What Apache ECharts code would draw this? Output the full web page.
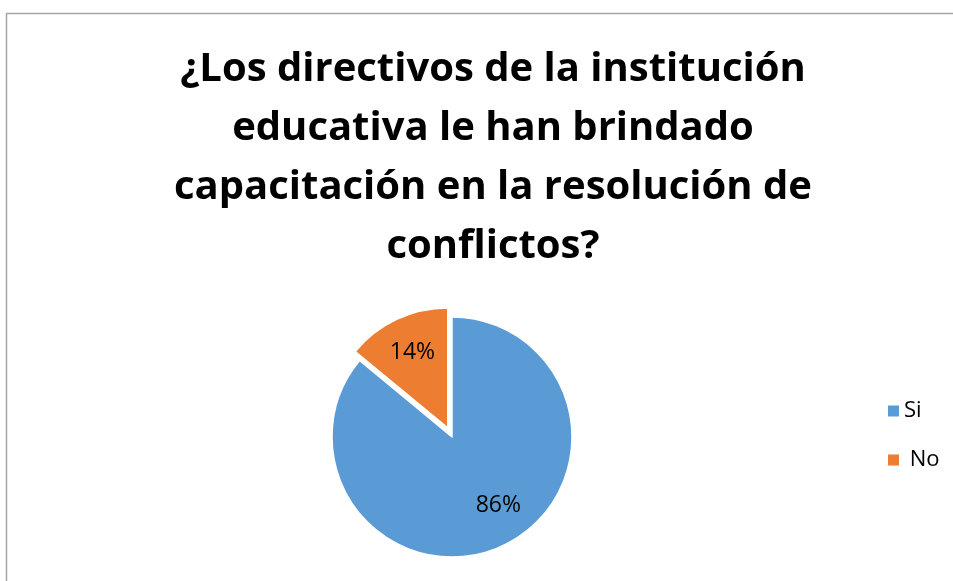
<!DOCTYPE html>
<html>
<head>
<meta charset="utf-8">
<script src="https://cdn.jsdelivr.net/npm/echarts@6/dist/echarts.min.js"></script>
<style>
html,body{margin:0;padding:0;background:#fff;}
#c{width:953px;height:581px;}
</style>
</head>
<body>
<div id="c"></div>
<script>
const titleText = "¿Los directivos de la institución\neducativa le han brindado\ncapacitación en la resolución de\nconflictos?";
const categories = ["Si", "No"];
const values = [86, 14];
const colors = ["#5B9BD5", "#ED7D31"];
const explodedCategory = "No";

const chart = echarts.init(document.getElementById('c'), null, {renderer: 'canvas'});
const FONT = '"Open Sans", Lato, sans-serif';

function makeData(transparent) {
  return categories.map((name, i) => ({
    name: name,
    value: values[i],
    selected: name === explodedCategory,
    itemStyle: {
      color: transparent ? 'rgba(0,0,0,0)' : colors[i],
      borderColor: transparent ? 'rgba(0,0,0,0)' : '#ffffff',
      borderWidth: transparent ? 0 : 1.5
    }
  }));
}

chart.setOption({
  animation: false,
  backgroundColor: '#ffffff',
  graphic: [{
    type: 'rect',
    shape: {x: 6.5, y: 13.5, width: 1000, height: 700},
    style: {fill: 'none', stroke: '#A6A6A6', lineWidth: 1.5},
    silent: true,
    z: -10
  }],
  title: {
    text: titleText,
    left: 488,
    top: 35,
    textAlign: 'center',
    textStyle: {
      fontFamily: FONT,
      fontWeight: 'bold',
      fontSize: 40,
      lineHeight: 59,
      color: '#000000'
    }
  },
  legend: {
    orient: 'vertical',
    left: 881,
    top: 395,
    itemWidth: 13,
    itemHeight: 13,
    itemGap: 27,
    icon: 'rect',
    data: categories.map((name, i) => ({name: name, itemStyle: {color: colors[i]}})),
    formatter: name => name === 'No' ? ' No' : name,
    textStyle: {fontFamily: FONT, fontSize: 22, lineHeight: 22, color: '#000000', padding: [0,0,0,-1]}
  },
  series: [{
    type: 'pie',
    center: [452, 437],
    radius: [0, 120],
    startAngle: 90,
    clockwise: true,
    selectedMode: 'single',
    selectedOffset: 10,
    label: {show: false},
    labelLine: {show: false},
    emphasis: {disabled: true},
    data: makeData(false)
  }, {
    type: 'pie',
    center: [452, 437],
    radius: [40, 120],
    startAngle: 90,
    clockwise: true,
    selectedMode: 'single',
    selectedOffset: 10,
    silent: true,
    emphasis: {disabled: true},
    label: {
      show: true,
      position: 'inside',
      formatter: p => p.value + '%',
      fontFamily: FONT,
      fontSize: 23,
      color: '#000000'
    },
    labelLayout: p => p.dataIndex === 0 ? {dx: 11, dy: -7} : {},
    labelLine: {show: false},
    data: makeData(true)
  }]
});
</script>
</body>
</html>
